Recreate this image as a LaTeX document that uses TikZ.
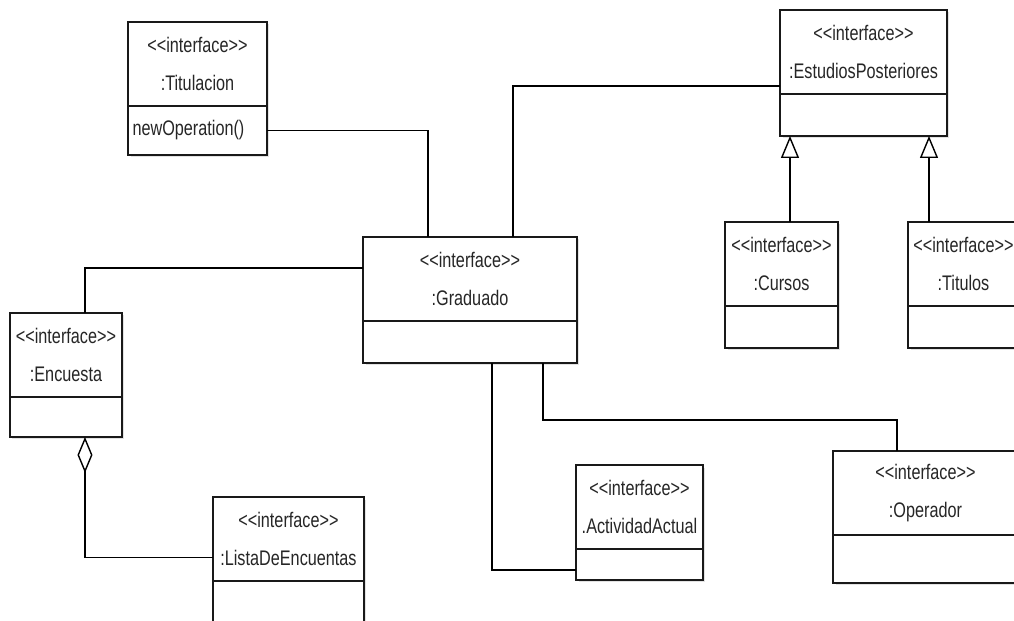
\documentclass[tikz,border=0pt]{standalone}
\usepackage{fontspec}
\newfontfamily\umlfont[FakeStretch=0.77]{Liberation Sans}
\usetikzlibrary{arrows.meta,positioning,shadows}

\newcommand{\stereo}{<\kern0pt<interface>\kern0pt>}

\begin{document}
\begin{tikzpicture}[
    x=0.02cm, y=-0.02cm,
    every node/.style={font=\umlfont\fontsize{12}{22}\selectfont, text=black!85},
    part/.style={draw=black!90, fill=white, line width=0.8pt, inner sep=0pt, outer sep=0pt,
        drop shadow={shadow xshift=0.05cm, shadow yshift=-0.05cm, fill=black!22}},
    head/.style={part, anchor=north west, minimum height=1.68cm, align=center},
    body/.style={part},
    link/.style={line width=0.8pt},
    gen/.style={link, -{Triangle[open, length=0.44cm, width=0.36cm]}},
    agg/.style={link, {Diamond[open, length=0.72cm, width=0.3cm]}-}
]
\useasboundingbox (0,0) rectangle (1014,621);
\fill[white] (0,0) rectangle (1014,621);
\clip (0,0) rectangle (1014,621);

% classes
\node[head, minimum width=2.78cm] (tit) at (128,22) {\stereo\\:Titulacion};
\node[body, minimum width=2.78cm, minimum height=0.98cm, below=0pt of tit,
      text width=2.6cm, inner xsep=0.09cm, align=left] (titb) {newOperation()};

\node[head, minimum width=4.28cm] (grad) at (363,237) {\stereo\\:Graduado};
\node[body, minimum width=4.28cm, minimum height=0.84cm, below=0pt of grad] (gradb) {};

\node[head, minimum width=2.24cm] (enc) at (10,313) {\stereo\\:Encuesta};
\node[body, minimum width=2.24cm, minimum height=0.80cm, below=0pt of enc] (encb) {};

\node[head, minimum width=3.02cm] (lis) at (213,497) {\stereo\\:ListaDeEncuentas};
\node[body, minimum width=3.02cm, minimum height=1.00cm, below=0pt of lis] (lisb) {};

\node[head, minimum width=2.54cm] (act) at (576,465) {\stereo\\.ActividadActual};
\node[body, minimum width=2.54cm, minimum height=0.62cm, below=0pt of act] (actb) {};

\node[head, minimum width=3.70cm] (op) at (833,451) {\stereo\\:Operador};
\node[body, minimum width=3.70cm, minimum height=0.96cm, below=0pt of op] (opb) {};

\node[head, minimum width=3.34cm] (ep) at (780,10) {\stereo\\:EstudiosPosteriores};
\node[body, minimum width=3.34cm, minimum height=0.84cm, below=0pt of ep] (epb) {};

\node[head, minimum width=2.26cm] (cur) at (725,222) {\stereo\\:Cursos};
\node[body, minimum width=2.26cm, minimum height=0.84cm, below=0pt of cur] (curb) {};

\node[head, minimum width=2.22cm] (tits) at (908,222) {\stereo\\:Titulos};
\node[body, minimum width=2.22cm, minimum height=0.84cm, below=0pt of tits] (titsb) {};

% associations
\draw[link] (titb.east) -| ([xshift=1.3cm]grad.north west);
\draw[link] ([xshift=3.0cm]grad.north west) |- ([yshift=0.16cm]ep.south west);
\draw[link] ([yshift=0.22cm]grad.west) -| ([xshift=0.38cm]enc.north);
\draw[agg] ([xshift=0.38cm]encb.south) |- ([yshift=-0.37cm]lis.west);
\draw[link] ([xshift=2.58cm]gradb.south west) |- ([yshift=-0.11cm]actb.west);
\draw[link] ([xshift=3.6cm]gradb.south west) -- ++(0,57) -| ([xshift=1.28cm]op.north west);

% generalisations
\coordinate (c1) at ([xshift=1.3cm]cur.north west);
\coordinate (t1) at ([xshift=0.42cm]tits.north west);
\draw[gen] (c1) -- (c1 |- epb.south);
\draw[gen] (t1) -- (t1 |- epb.south);
\end{tikzpicture}
\end{document}
